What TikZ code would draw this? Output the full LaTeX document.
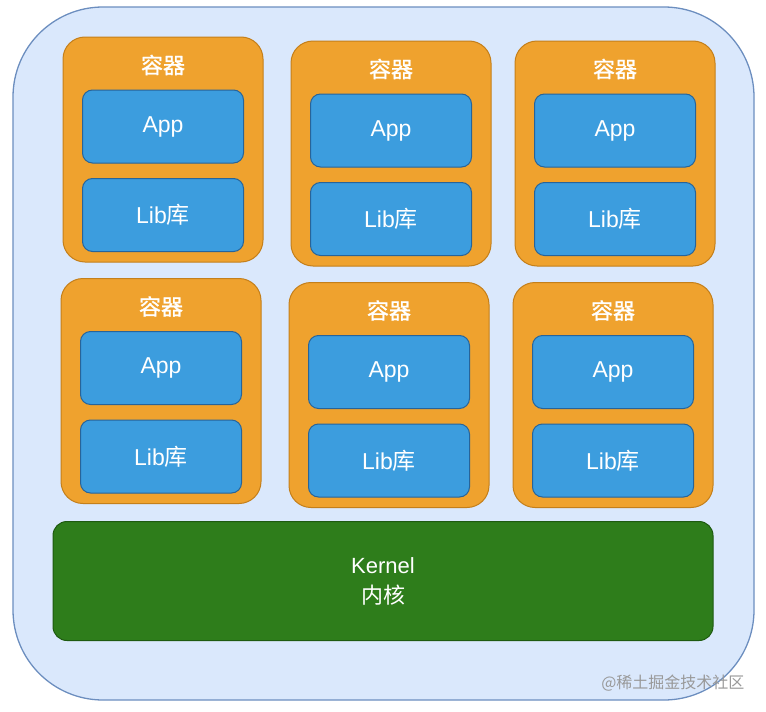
\documentclass[tikz,border=0pt]{standalone}
\usepackage{fontspec}
\setmainfont{Liberation Sans}
\newfontfamily\cjk{Noto Sans CJK SC}
\newfontfamily\cjkheavy{Noto Sans CJK SC}[FakeBold=1.2]
\usepackage{tikz}

\definecolor{hostfill}{HTML}{DAE8FC}
\definecolor{hostline}{HTML}{6C8EBF}
\definecolor{boxfill}{HTML}{EFA22E}
\definecolor{boxline}{HTML}{C47F1A}
\definecolor{appfill}{HTML}{3C9DDE}
\definecolor{appline}{HTML}{27649A}
\definecolor{kernfill}{HTML}{2E7D1B}
\definecolor{kernline}{HTML}{1E5A10}

\tikzset{
  container/.style={draw=boxline, fill=boxfill, line width=1pt, rounded corners=22pt,
    minimum width=200pt, minimum height=225pt},
  layer/.style={draw=appline, fill=appfill, line width=1pt, rounded corners=10pt,
    minimum width=161pt, minimum height=73pt, text=white, font=\fontsize{23}{26}\selectfont},
  ctitle/.style={text=white, font=\cjkheavy\fontsize{22}{24}\selectfont}
}

\begin{document}
\begin{tikzpicture}[x=1pt, y=-1pt]
  \useasboundingbox (0,0) rectangle (766,712);
  \draw[draw=hostline, fill=hostfill, line width=1.3pt, rounded corners=90pt] (13,7) rectangle (754,700);

  % top row
  \node[container] (c1) at (163,149.5) {};
  \node[ctitle] (t1) at (163,65) {容器};
  \node[layer] (a1) at (163,126.5) {App};
  \node[layer] (l1) at (163,215) {Lib{\cjk 库}};

  \node[container] (c2) at (391,153.5) {};
  \node[ctitle] (t2) at (391,69) {容器};
  \node[layer] (a2) at (391,130.5) {App};
  \node[layer] (l2) at (391,219) {Lib{\cjk 库}};

  \node[container] (c3) at (615,153.5) {};
  \node[ctitle] (t3) at (615,69) {容器};
  \node[layer] (a3) at (615,130.5) {App};
  \node[layer] (l3) at (615,219) {Lib{\cjk 库}};

  % bottom row
  \node[container] (c4) at (161,391) {};
  \node[ctitle] (t4) at (161,306.5) {容器};
  \node[layer] (a4) at (161,368) {App};
  \node[layer] (l4) at (161,456.5) {Lib{\cjk 库}};

  \node[container] (c5) at (389,395) {};
  \node[ctitle] (t5) at (389,310.5) {容器};
  \node[layer] (a5) at (389,372) {App};
  \node[layer] (l5) at (389,460.5) {Lib{\cjk 库}};

  \node[container] (c6) at (613,395) {};
  \node[ctitle] (t6) at (613,310.5) {容器};
  \node[layer] (a6) at (613,372) {App};
  \node[layer] (l6) at (613,460.5) {Lib{\cjk 库}};

  % kernel
  \node[draw=kernline, fill=kernfill, line width=1pt, rounded corners=14pt,
    minimum width=660pt, minimum height=119pt, text=white, align=center,
    font=\fontsize{22}{30}\selectfont] (kernel) at (383,581) {Kernel\\{\cjk 内核}};

  \node[text=black!40, font=\cjk\fontsize{16}{18}\selectfont, anchor=east] (mark) at (748,683) {@稀土掘金技术社区};
\end{tikzpicture}
\end{document}
